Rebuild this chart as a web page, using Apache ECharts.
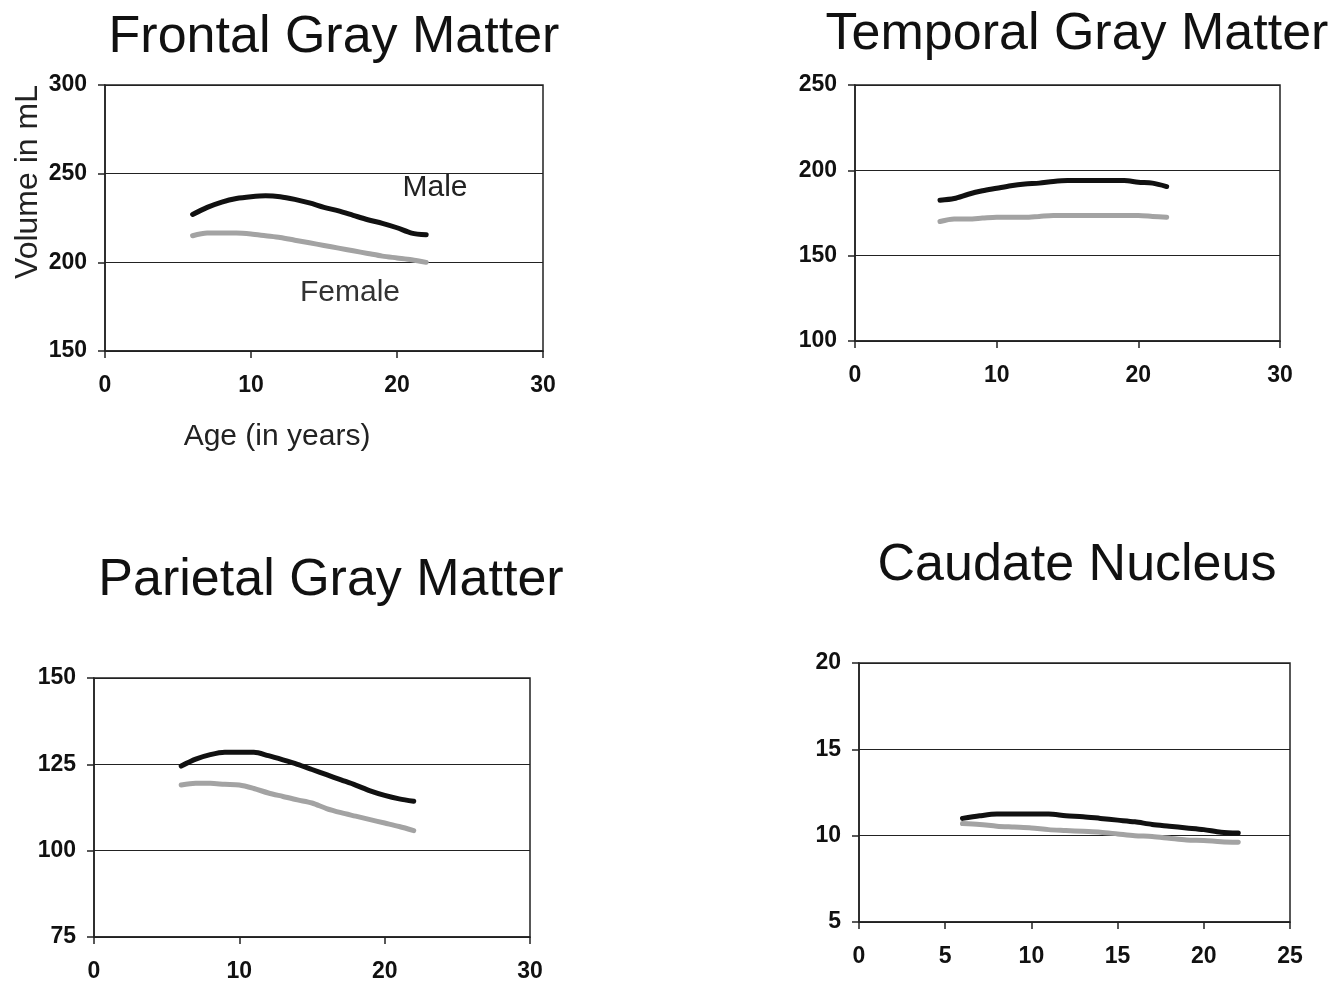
<!DOCTYPE html>
<html>
<head>
<meta charset="utf-8">
<script src="https://cdn.jsdelivr.net/npm/echarts@6/dist/echarts.min.js"></script>
<style>
  html, body { margin: 0; padding: 0; background: #fff; }
  #main { width: 1334px; height: 983px; }
</style>
</head>
<body>
<div id="main"></div>
<script>
// ages (years) shared by all panels
var ages = [6, 7, 8, 9, 10, 11, 12, 13, 14, 15, 16, 17, 18, 19, 20, 21, 22];

// volumes in mL
var frontalMale = [227, 231, 234, 236, 237, 237.5, 237, 235.5, 233.5, 231, 229, 226.5, 224, 222, 219.5, 216.5, 215.5];
var frontalFemale = [215, 216.5, 216.5, 216.5, 216, 215, 214, 212.5, 211, 209.5, 208, 206.5, 205, 203.5, 202.5, 201.5, 200];
var temporalMale = [182.5, 183.5, 186, 188, 189.5, 191, 192, 192.5, 193.5, 194, 194, 194, 194, 194, 193, 192.5, 190.5];
var temporalFemale = [170, 171.5, 171.5, 172, 172.5, 172.5, 172.5, 173, 173.5, 173.5, 173.5, 173.5, 173.5, 173.5, 173.5, 173, 172.5];
var parietalMale = [124.5, 126.5, 127.8, 128.5, 128.5, 128.5, 127.5, 126.3, 125, 123.5, 122, 120.5, 119, 117.3, 116, 115, 114.3];
var parietalFemale = [119, 119.5, 119.5, 119.2, 119, 118, 116.7, 115.7, 114.7, 113.8, 112.2, 111, 110, 109, 108, 107, 105.8];
var caudateMale = [11.0, 11.15, 11.25, 11.25, 11.25, 11.25, 11.15, 11.1, 11.0, 10.9, 10.8, 10.65, 10.55, 10.45, 10.35, 10.2, 10.15];
var caudateFemale = [10.7, 10.65, 10.55, 10.5, 10.45, 10.35, 10.3, 10.25, 10.2, 10.1, 10.0, 9.95, 9.85, 9.75, 9.72, 9.65, 9.62];

var titles = ['Frontal Gray Matter', 'Temporal Gray Matter', 'Parietal Gray Matter', 'Caudate Nucleus'];
var yMin = [150, 100, 75, 5];
var yMax = [300, 250, 150, 20];
var yStep = [50, 50, 25, 5];
var xMax = [30, 30, 30, 25];
var xStep = [10, 10, 10, 5];

var font = "'Liberation Sans', Arial, sans-serif";
var grids = [
  {left: 105, top: 85, width: 438, height: 266},
  {left: 855, top: 85, width: 425, height: 256},
  {left: 94, top: 678, width: 436, height: 262},
  {left: 859, top: 663, width: 431, height: 259}
];
var titlePos = [[329, 7], [1072, 4], [326, 550], [1072, 535]];

function pairs(vals) {
  return ages.map(function (a, i) { return [a, vals[i]]; });
}

var seriesData = [
  [frontalMale, frontalFemale],
  [temporalMale, temporalFemale],
  [parietalMale, parietalFemale],
  [caudateMale, caudateFemale]
];

var myChart = echarts.init(document.getElementById('main'));

var option = {
  backgroundColor: '#fff',
  animation: false,
  title: titles.map(function (t, i) {
    return {
      text: t,
      left: titlePos[i][0],
      top: titlePos[i][1],
      textAlign: 'center',
      textStyle: {fontFamily: font, fontSize: 52, fontWeight: 'normal', color: '#111'}
    };
  }),
  grid: grids.map(function (g) {
    return {
      left: g.left, top: g.top, width: g.width, height: g.height,
      show: true, borderColor: '#222', borderWidth: 1.5, containLabel: false
    };
  }),
  xAxis: grids.map(function (g, i) {
    return {
      type: 'value',
      gridIndex: i,
      min: 0,
      max: xMax[i],
      interval: xStep[i],
      axisLine: {show: true, lineStyle: {color: '#222', width: 1.5}},
      axisTick: {show: true, length: 7, lineStyle: {color: '#222', width: 1.5}},
      splitLine: {show: false},
      axisLabel: {margin: 23, color: '#111', fontFamily: font, fontSize: 23, fontWeight: 'bold'}
    };
  }),
  yAxis: grids.map(function (g, i) {
    return {
      type: 'value',
      gridIndex: i,
      min: yMin[i],
      max: yMax[i],
      interval: yStep[i],
      axisLine: {show: true, lineStyle: {color: '#222', width: 1.5}},
      axisTick: {show: true, length: 7, lineStyle: {color: '#222', width: 1.5}},
      splitLine: {show: true, lineStyle: {color: '#222', width: 1.2}},
      axisLabel: {margin: 18, color: '#111', fontFamily: font, fontSize: 23, fontWeight: 'bold'}
    };
  }),
  series: [],
  graphic: [
    {
      type: 'text', x: 28, y: 182, rotation: Math.PI / 2,
      style: {text: 'Volume in mL', font: '32px ' + font, fill: '#222', textAlign: 'center', textVerticalAlign: 'middle'}
    },
    {
      type: 'text', x: 277, y: 437,
      style: {text: 'Age (in years)', font: '30px ' + font, fill: '#222', textAlign: 'center', textVerticalAlign: 'middle'}
    },
    {
      type: 'text', x: 435, y: 188,
      style: {text: 'Male', font: '30px ' + font, fill: '#222', textAlign: 'center', textVerticalAlign: 'middle'}
    },
    {
      type: 'text', x: 350, y: 293,
      style: {text: 'Female', font: '30px ' + font, fill: '#333', textAlign: 'center', textVerticalAlign: 'middle'}
    }
  ]
};

seriesData.forEach(function (pair, i) {
  option.series.push({
    name: 'Male',
    type: 'line',
    xAxisIndex: i,
    yAxisIndex: i,
    data: pairs(pair[0]),
    symbol: 'none',
    smooth: 0.3,
    lineStyle: {color: '#111', width: 5, cap: 'round'},
    z: 3
  });
  option.series.push({
    name: 'Female',
    type: 'line',
    xAxisIndex: i,
    yAxisIndex: i,
    data: pairs(pair[1]),
    symbol: 'none',
    smooth: 0.3,
    lineStyle: {color: '#a3a3a3', width: 5, cap: 'round'},
    z: 2
  });
});

myChart.setOption(option);
</script>
</body>
</html>
